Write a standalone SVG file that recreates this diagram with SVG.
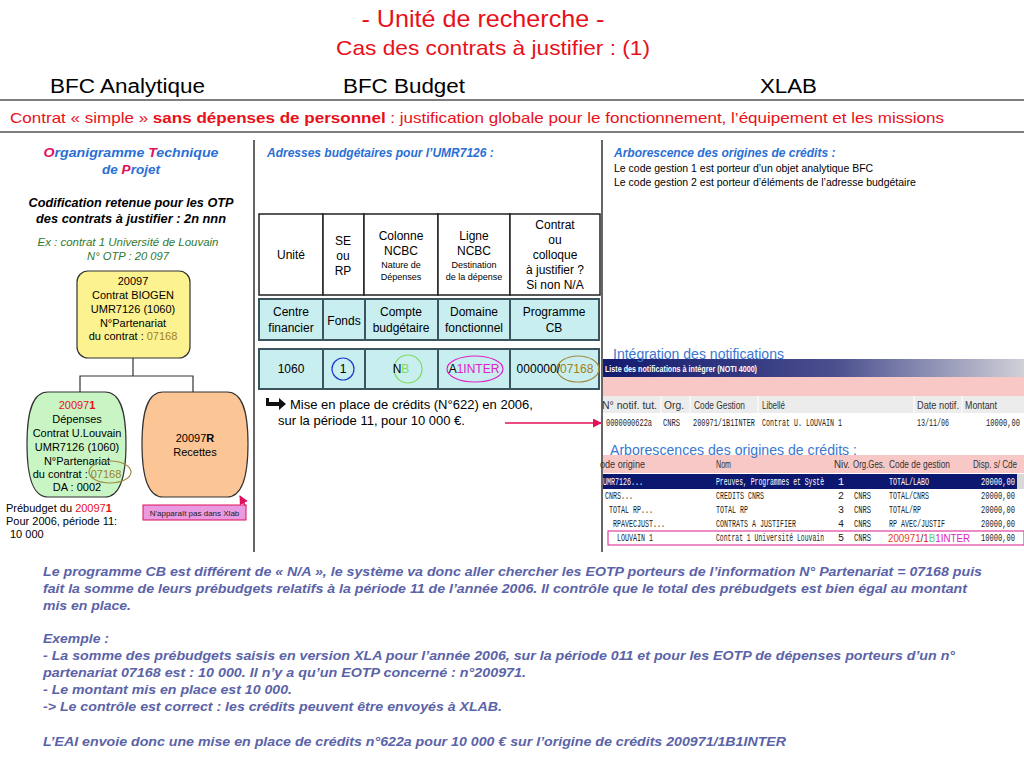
<svg xmlns="http://www.w3.org/2000/svg" width="1024" height="768" viewBox="0 0 1024 768">
<style>
text{font-family:"Liberation Sans",Arial,sans-serif;}
.red{fill:#e8101a;}
.hdr{font-size:20px;fill:#000;}
.bi{font-weight:bold;font-style:italic;}
.blue{fill:#2a6fd6;}
.pink{fill:#e0105a;}
.c{text-anchor:middle;}
.n11{font-size:11px;fill:#000;}
.t12{font-size:12px;fill:#000;}
.t9{font-size:9px;fill:#000;}
.cell1{fill:#fff;stroke:#222;stroke-width:1.5;}
.cell2{fill:#c9eef0;stroke:#3a5560;stroke-width:2;}
.node{stroke:#333;stroke-width:1.2;}
.sep{stroke:#333;stroke-width:1.5;}
.scr{font-family:"Liberation Mono",monospace;font-size:10px;fill:#222;}
.w{fill:#fff;}
.scrh{font-size:10px;fill:#333;}
.bot{font-size:13px;font-weight:bold;font-style:italic;fill:#5b63a8;}
.olive{fill:#a08020;}
</style>
<defs>
<linearGradient id="bar" x1="0" y1="0" x2="1" y2="0">
<stop offset="0" stop-color="#141a6e"/>
<stop offset="0.55" stop-color="#4a4f8e"/>
<stop offset="1" stop-color="#d0d0d8"/>
</linearGradient>
<marker id="ah" viewBox="0 0 10 10" refX="9" refY="5" markerWidth="6" markerHeight="6" orient="auto">
<path d="M0,0 L10,5 L0,10 Z" fill="#e0105a"/>
</marker>
</defs>
<rect width="1024" height="768" fill="#fff"/>

<g id="title">
<text x="483" y="27" class="red c" font-size="24" textLength="243" lengthAdjust="spacingAndGlyphs">- Unité de recherche -</text>
<text x="493" y="55" class="red c" font-size="21" textLength="314" lengthAdjust="spacingAndGlyphs">Cas des contrats à justifier : (1)</text>
<text x="50" y="93" class="hdr" textLength="155" lengthAdjust="spacingAndGlyphs">BFC Analytique</text>
<text x="343" y="93" class="hdr" textLength="122" lengthAdjust="spacingAndGlyphs">BFC Budget</text>
<text x="760" y="93" class="hdr" textLength="57" lengthAdjust="spacingAndGlyphs">XLAB</text>
<line x1="0" y1="100" x2="1024" y2="100" stroke="#555" stroke-width="1.5"/>
<text x="10" y="123" class="red" font-size="15" textLength="934" lengthAdjust="spacingAndGlyphs">Contrat « simple » <tspan font-weight="bold">sans dépenses de personnel</tspan> : justification globale pour le fonctionnement, l’équipement et les missions</text>
<line x1="0" y1="132" x2="1024" y2="132" stroke="#555" stroke-width="1.5"/>
<line x1="254" y1="140" x2="254" y2="552" class="sep"/>
<line x1="602" y1="140" x2="602" y2="552" class="sep"/>
</g>

<g id="left-head">
<text x="131" y="157" class="bi blue c" font-size="13.5" textLength="175" lengthAdjust="spacingAndGlyphs"><tspan class="pink">O</tspan>rganigramme <tspan class="pink">T</tspan>echnique</text>
<text x="131" y="174" class="bi blue c" font-size="13.5">de <tspan class="pink">P</tspan>rojet</text>
<text x="131" y="207" class="bi c" font-size="12.5" fill="#000" textLength="205" lengthAdjust="spacingAndGlyphs">Codification retenue pour les OTP</text>
<text x="131" y="223" class="bi c" font-size="12.5" fill="#000" textLength="190" lengthAdjust="spacingAndGlyphs">des contrats à justifier : 2n nnn</text>
<text x="128" y="246" class="c" font-size="11.2" font-style="italic" fill="#2f7a2f" textLength="181" lengthAdjust="spacingAndGlyphs">Ex : contrat 1 Université de Louvain</text>
<text x="128" y="260" class="c" font-size="11.2" font-style="italic" fill="#2f7a2f">N° OTP  : 20 097</text>
</g>

<g id="connectors">
<polyline points="133,358 133,376" fill="none" stroke="#333" stroke-width="1.2"/>
<polyline points="80,392 80,376 193,376 193,392" fill="none" stroke="#333" stroke-width="1.2"/>
<line x1="246" y1="507" x2="240" y2="496" stroke="#e0105a" stroke-width="1.5" marker-end="url(#ah)"/>
<line x1="505" y1="423" x2="601" y2="423" stroke="#e0105a" stroke-width="1.5" marker-end="url(#ah)"/>
</g>

<g id="node-20097">
<rect x="77" y="271" width="113" height="87" rx="11" fill="#fdf290" class="node"/>
<text x="133" y="285" class="n11 c">20097</text>
<text x="133" y="299" class="n11 c">Contrat BIOGEN</text>
<text x="133" y="313" class="n11 c">UMR7126 (1060)</text>
<text x="133" y="327" class="n11 c">N°Partenariat</text>
<text x="133" y="340" class="n11 c">du contrat : <tspan class="olive">07168</tspan></text>
</g>

<g id="node-200971">
<path d="M48,392 H105 C120,392 126,410 126,444 C126,478 120,497 105,497 H48 C33,497 27,478 27,444 C27,410 33,392 48,392 Z" fill="#c9f5c4" class="node"/>
<text x="77" y="409" class="n11 c"><tspan fill="#e8101a">20097</tspan><tspan fill="#e8101a" font-weight="bold">1</tspan></text>
<text x="77" y="423" class="n11 c">Dépenses</text>
<text x="77" y="437" class="n11 c">Contrat U.Louvain</text>
<text x="77" y="451" class="n11 c">UMR7126 (1060)</text>
<text x="77" y="465" class="n11 c">N°Partenariat</text>
<text x="77" y="478" class="n11 c">du contrat : <tspan class="olive">07168</tspan></text>
<ellipse cx="110" cy="472" rx="21" ry="11" fill="none" stroke="#a08a40" stroke-width="1.2"/>
<text x="77" y="491" class="n11 c">DA : 0002</text>
</g>

<g id="node-20097R">
<path d="M163,392 H227 C242,392 248,410 248,444 C248,478 242,497 227,497 H163 C148,497 142,478 142,444 C142,410 148,392 163,392 Z" fill="#fcc595" class="node"/>
<text x="195" y="442" class="n11 c">20097<tspan font-weight="bold">R</tspan></text>
<text x="195" y="456" class="n11 c">Recettes</text>
</g>

<g id="note-xlab">
<rect x="143" y="505" width="103" height="15" fill="#e99ae0" stroke="#e0105a" stroke-width="1"/>
<text x="194.5" y="516" class="c" font-size="8" fill="#222">N'apparaît pas dans Xlab</text>
</g>

<g id="prebudget">
<text x="6" y="512" class="n11">Prébudget du <tspan fill="#e8101a">20097</tspan><tspan fill="#e8101a" font-weight="bold">1</tspan></text>
<text x="6" y="525" class="n11">Pour 2006, période 11:</text>
<text x="10" y="538" class="n11">10 000</text>
</g>

<g id="mid-head">
<text x="267" y="157" class="bi blue" font-size="12">Adresses budgétaires pour l’UMR7126 :</text>
</g>

<g id="table-header">
<rect x="259" y="214" width="64" height="81" class="cell1"/>
<rect x="323" y="214" width="41" height="81" class="cell1"/>
<rect x="364" y="214" width="74" height="81" class="cell1"/>
<rect x="438" y="214" width="72" height="81" class="cell1"/>
<rect x="510" y="214" width="90" height="81" class="cell1"/>
<text x="291" y="259" class="t12 c">Unité</text>
<text x="343" y="245" class="t12 c">SE</text>
<text x="343" y="260" class="t12 c">ou</text>
<text x="343" y="275" class="t12 c">RP</text>
<text x="401" y="240" class="t12 c">Colonne</text>
<text x="401" y="255" class="t12 c">NCBC</text>
<text x="401" y="268" class="t9 c">Nature de</text>
<text x="401" y="280" class="t9 c">Dépenses</text>
<text x="474" y="240" class="t12 c">Ligne</text>
<text x="474" y="255" class="t12 c">NCBC</text>
<text x="474" y="268" class="t9 c">Destination</text>
<text x="474" y="280" class="t9 c">de la dépense</text>
<text x="555" y="229" class="t12 c">Contrat</text>
<text x="555" y="244" class="t12 c">ou</text>
<text x="555" y="259" class="t12 c">colloque</text>
<text x="555" y="274" class="t12 c">à justifier ?</text>
<text x="555" y="289" class="t12 c">Si non N/A</text>
</g>

<g id="table-labels">
<rect x="259" y="299" width="64" height="41" class="cell2"/>
<rect x="323" y="299" width="42" height="41" class="cell2"/>
<rect x="365" y="299" width="73" height="41" class="cell2"/>
<rect x="438" y="299" width="72" height="41" class="cell2"/>
<rect x="510" y="299" width="89" height="41" class="cell2"/>
<text x="291" y="316" class="t12 c">Centre</text>
<text x="291" y="332" class="t12 c">financier</text>
<text x="344" y="325" class="t12 c">Fonds</text>
<text x="401" y="316" class="t12 c">Compte</text>
<text x="401" y="332" class="t12 c">budgétaire</text>
<text x="474" y="316" class="t12 c">Domaine</text>
<text x="474" y="332" class="t12 c">fonctionnel</text>
<text x="554" y="316" class="t12 c">Programme</text>
<text x="554" y="332" class="t12 c">CB</text>
</g>

<g id="table-values">
<rect x="259" y="349" width="64" height="40" class="cell2"/>
<rect x="323" y="349" width="42" height="40" class="cell2"/>
<rect x="365" y="349" width="73" height="40" class="cell2"/>
<rect x="438" y="349" width="72" height="40" class="cell2"/>
<rect x="510" y="349" width="89" height="40" class="cell2"/>
<text x="291" y="373" class="t12 c">1060</text>
<circle cx="343" cy="369" r="11" fill="none" stroke="#1a3ad0" stroke-width="1.2"/>
<text x="343" y="373" class="t12 c">1</text>
<circle cx="408" cy="369" r="14" fill="none" stroke="#7ddc5a" stroke-width="1.2"/>
<text x="401" y="373" class="t12 c">N<tspan fill="#7ddc5a">B</tspan></text>
<ellipse cx="475" cy="369" rx="28" ry="13" fill="none" stroke="#e020c8" stroke-width="1.2"/>
<text x="474" y="373" class="t12 c">A<tspan fill="#e020c8">1INTER</tspan></text>
<ellipse cx="578" cy="369" rx="21" ry="13" fill="none" stroke="#a08a40" stroke-width="1.2"/>
<text x="555" y="373" class="t12 c">000000/<tspan class="olive">07168</tspan></text>
</g>

<g id="mise-en-place">
<path d="M266,398 h3 v4 h10 v-4 l7,6 l-7,6 v-4 h-13 z" fill="#111"/>
<text x="290" y="409" font-size="13" fill="#000">Mise en place de crédits (N°622) en 2006,</text>
<text x="278" y="425" font-size="13" fill="#000">sur la période 11, pour 10 000 €.</text>
</g>

<g id="right-head">
<text x="614" y="157" class="bi blue" font-size="12">Arborescence des origines de crédits :</text>
<text x="614" y="172" font-size="10.5" fill="#000">Le code gestion 1 est porteur d’un objet analytique BFC</text>
<text x="614" y="186" font-size="10.5" fill="#000">Le code gestion 2 est porteur d’éléments de l’adresse budgétaire</text>
</g>

<g id="screen-notifications">
<rect x="603" y="359" width="421" height="18" fill="url(#bar)"/>
<rect x="603" y="377" width="421" height="19" fill="#f8c8c6"/>
<rect x="603" y="396" width="421" height="17" fill="#ececec"/>
<line x1="661" y1="396" x2="661" y2="413" stroke="#fff"/>
<line x1="690" y1="396" x2="690" y2="413" stroke="#fff"/>
<line x1="758" y1="396" x2="758" y2="413" stroke="#fff"/>
<line x1="914" y1="396" x2="914" y2="413" stroke="#fff"/>
<line x1="962" y1="396" x2="962" y2="413" stroke="#fff"/>
<text x="613" y="359" font-size="14" fill="#3a78d0" textLength="171" lengthAdjust="spacingAndGlyphs">Intégration des notifications</text>
<text x="605" y="372" font-size="9" font-weight="bold" fill="#fff" textLength="152" lengthAdjust="spacingAndGlyphs">Liste des notifications à intégrer    (NOTI 4000)</text>
<text x="602" y="409" class="scrh" textLength="55" lengthAdjust="spacingAndGlyphs">N° notif. tut.</text>
<text x="664" y="409" class="scrh" textLength="20" lengthAdjust="spacingAndGlyphs">Org.</text>
<text x="694" y="409" class="scrh" textLength="51" lengthAdjust="spacingAndGlyphs">Code Gestion</text>
<text x="762" y="409" class="scrh" textLength="23" lengthAdjust="spacingAndGlyphs">Libellé</text>
<text x="917" y="409" class="scrh" textLength="42" lengthAdjust="spacingAndGlyphs">Date notif.</text>
<text x="965" y="409" class="scrh" textLength="32" lengthAdjust="spacingAndGlyphs">Montant</text>
<text x="606" y="426" class="scr" textLength="46" lengthAdjust="spacingAndGlyphs">0000000622a</text>
<text x="663" y="426" class="scr" textLength="17" lengthAdjust="spacingAndGlyphs">CNRS</text>
<text x="693" y="426" class="scr" textLength="62" lengthAdjust="spacingAndGlyphs">200971/1B1INTER</text>
<text x="762" y="426" class="scr" textLength="80" lengthAdjust="spacingAndGlyphs">Contrat U. LOUVAIN 1</text>
<text x="917" y="426" class="scr" textLength="32" lengthAdjust="spacingAndGlyphs">13/11/06</text>
<text x="1020" y="426" class="scr" text-anchor="end" textLength="34" lengthAdjust="spacingAndGlyphs">10000,00</text>
</g>

<g id="screen-arborescence">
<rect x="603" y="455" width="421" height="18" fill="#f8c8c6"/>
<rect x="603" y="474" width="414" height="15" fill="#0c1870"/>
<rect x="1017" y="474" width="7" height="15" fill="#d8d8d8"/>
<text x="610" y="455" font-size="14" fill="#3a78d0" textLength="247" lengthAdjust="spacingAndGlyphs">Arborescences des origines de crédits :</text>
<text x="600" y="468" class="scrh" textLength="45" lengthAdjust="spacingAndGlyphs">ode origine</text>
<text x="716" y="468" class="scrh" textLength="15" lengthAdjust="spacingAndGlyphs">Nom</text>
<text x="834" y="468" class="scrh" textLength="16" lengthAdjust="spacingAndGlyphs">Niv.</text>
<text x="853" y="468" class="scrh" textLength="32" lengthAdjust="spacingAndGlyphs">Org.Ges.</text>
<text x="889" y="468" class="scrh" textLength="61" lengthAdjust="spacingAndGlyphs">Code de gestion</text>
<text x="973" y="468" class="scrh" textLength="44" lengthAdjust="spacingAndGlyphs">Disp. s/ Cde</text>
<text x="603" y="485" class="scr w" textLength="40" lengthAdjust="spacingAndGlyphs">UMR7126...</text>
<text x="716" y="485" class="scr w" textLength="108" lengthAdjust="spacingAndGlyphs">Preuves, Programmes et Systè</text>
<text x="838" y="485" class="scr w">1</text>
<text x="889" y="485" class="scr w" textLength="40" lengthAdjust="spacingAndGlyphs">TOTAL/LABO</text>
<text x="1015" y="485" class="scr w" text-anchor="end" textLength="34" lengthAdjust="spacingAndGlyphs">20000,00</text>
<text x="605" y="499" class="scr" textLength="28" lengthAdjust="spacingAndGlyphs">CNRS...</text>
<text x="716" y="499" class="scr" textLength="48" lengthAdjust="spacingAndGlyphs">CREDITS CNRS</text>
<text x="838" y="499" class="scr">2</text>
<text x="854" y="499" class="scr" textLength="17" lengthAdjust="spacingAndGlyphs">CNRS</text>
<text x="889" y="499" class="scr" textLength="40" lengthAdjust="spacingAndGlyphs">TOTAL/CNRS</text>
<text x="1015" y="499" class="scr" text-anchor="end" textLength="34" lengthAdjust="spacingAndGlyphs">20000,00</text>
<text x="609" y="513" class="scr" textLength="44" lengthAdjust="spacingAndGlyphs">TOTAL RP...</text>
<text x="716" y="513" class="scr" textLength="32" lengthAdjust="spacingAndGlyphs">TOTAL RP</text>
<text x="838" y="513" class="scr">3</text>
<text x="854" y="513" class="scr" textLength="17" lengthAdjust="spacingAndGlyphs">CNRS</text>
<text x="889" y="513" class="scr" textLength="32" lengthAdjust="spacingAndGlyphs">TOTAL/RP</text>
<text x="1015" y="513" class="scr" text-anchor="end" textLength="34" lengthAdjust="spacingAndGlyphs">20000,00</text>
<text x="613" y="527" class="scr" textLength="52" lengthAdjust="spacingAndGlyphs">RPAVECJUST...</text>
<text x="716" y="527" class="scr" textLength="80" lengthAdjust="spacingAndGlyphs">CONTRATS A JUSTIFIER</text>
<text x="838" y="527" class="scr">4</text>
<text x="854" y="527" class="scr" textLength="17" lengthAdjust="spacingAndGlyphs">CNRS</text>
<text x="889" y="527" class="scr" textLength="56" lengthAdjust="spacingAndGlyphs">RP AVEC/JUSTIF</text>
<text x="1015" y="527" class="scr" text-anchor="end" textLength="34" lengthAdjust="spacingAndGlyphs">20000,00</text>
<rect x="608" y="531" width="416" height="14" fill="none" stroke="#e040a0" stroke-width="1.2"/>
<text x="617" y="541" class="scr" textLength="36" lengthAdjust="spacingAndGlyphs">LOUVAIN 1</text>
<text x="716" y="541" class="scr" textLength="108" lengthAdjust="spacingAndGlyphs">Contrat 1 Université Louvain</text>
<text x="838" y="541" class="scr">5</text>
<text x="854" y="541" class="scr" textLength="17" lengthAdjust="spacingAndGlyphs">CNRS</text>
<text x="888" y="542" font-size="10" textLength="82" lengthAdjust="spacingAndGlyphs"><tspan fill="#e84020">200971</tspan><tspan fill="#333">/</tspan><tspan fill="#e8101a">1</tspan><tspan fill="#5ad05a">B</tspan><tspan fill="#e020c8">1INTER</tspan></text>
<text x="1015" y="541" class="scr" text-anchor="end" textLength="34" lengthAdjust="spacingAndGlyphs">10000,00</text>
</g>

<g id="explanation">
<text x="43" y="576" class="bot" textLength="939" lengthAdjust="spacingAndGlyphs">Le programme CB est différent de « N/A », le système va donc aller chercher les EOTP porteurs de l’information N° Partenariat = 07168 puis</text>
<text x="43" y="593" class="bot" textLength="924" lengthAdjust="spacingAndGlyphs">fait la somme de leurs prébudgets relatifs à la période 11 de l’année 2006. Il contrôle que le total des prébudgets est bien égal au montant</text>
<text x="43" y="610" class="bot" textLength="88" lengthAdjust="spacingAndGlyphs">mis en place.</text>
<text x="43" y="643" class="bot" textLength="66" lengthAdjust="spacingAndGlyphs">Exemple :</text>
<text x="43" y="660" class="bot" textLength="912" lengthAdjust="spacingAndGlyphs">- La somme des prébudgets saisis en version XLA pour l’année 2006, sur la période 011 et pour les EOTP de dépenses porteurs d’un n°</text>
<text x="43" y="677" class="bot" textLength="483" lengthAdjust="spacingAndGlyphs">partenariat 07168 est :  10 000. Il n’y a qu’un EOTP concerné : n°200971.</text>
<text x="43" y="694" class="bot" textLength="249" lengthAdjust="spacingAndGlyphs">- Le montant mis en place est 10 000.</text>
<text x="43" y="711" class="bot" textLength="459" lengthAdjust="spacingAndGlyphs">-&gt; Le contrôle est correct : les crédits peuvent être envoyés à XLAB.</text>
<text x="43" y="746" class="bot" textLength="743" lengthAdjust="spacingAndGlyphs">L’EAI envoie donc une mise en place de crédits n°622a pour 10 000 € sur l’origine de crédits 200971/1B1INTER</text>
</g>
</svg>
